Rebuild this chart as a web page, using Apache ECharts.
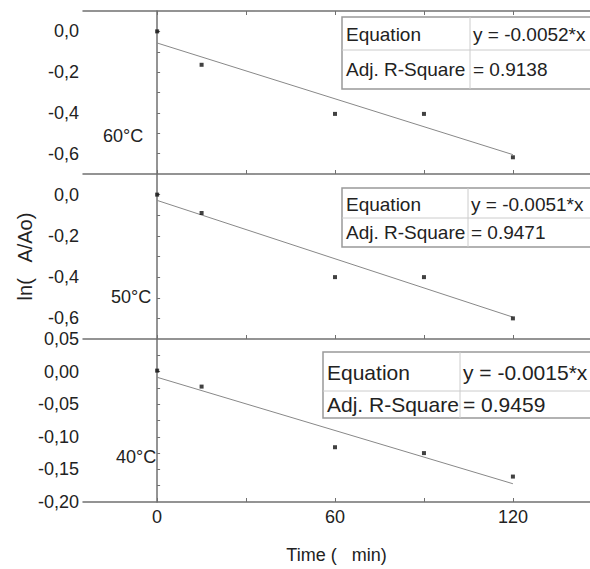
<!DOCTYPE html>
<html>
<head>
<meta charset="utf-8">
<title>ln(A/Ao) vs time</title>
<script src="https://cdn.jsdelivr.net/npm/echarts@6/dist/echarts.min.js"></script>
<style>
  html, body { margin: 0; padding: 0; background: #fff; }
  #chart { width: 590px; height: 569px; }
</style>
</head>
<body>
<div id="chart"></div>
<script>
// data
const timeMin = [0, 15, 60, 90, 120]
const ln60 = [0.0, -0.164, -0.405, -0.405, -0.618]
const ln50 = [0.0, -0.089, -0.40, -0.40, -0.60]
const ln40 = [0.0015, -0.023, -0.116, -0.125, -0.161]
const fitX = [0, 120]
const fit60 = [-0.057, -0.605]
const fit50 = [-0.028, -0.594]
const fit40 = [-0.0087, -0.172]
const temps = ['60°C', '50°C', '40°C']
const equations = ['y = -0.0052*x', 'y = -0.0051*x', 'y = -0.0015*x']
const r2 = ['= 0.9138', '= 0.9471', '= 0.9459']
const xLabels = [0, 60, 120]
const xTicks = [0, 30, 60, 90, 120]
const yLabels = [0, -0.2, -0.4, -0.6]
const yTicks = [0, -0.1, -0.2, -0.3, -0.4, -0.5, -0.6]
const yLabels40 = [0.05, 0, -0.05, -0.1, -0.15, -0.2]
const yTicks40 = [0.025, 0, -0.025, -0.05, -0.075, -0.1, -0.125, -0.15, -0.175]

const font = 'Liberation Sans, Arial, sans-serif'
const axisColor = '#707070'

let pts = (xs, ys) => xs.map((x, i) => [x, ys[i]])

let grids = [
  {left: 83, right: 0, top: 11, height: 163},
  {left: 83, right: 0, top: 174, height: 165},
  {left: 83, right: 0, top: 339, height: 163}
]

function xAx (idx, pos, labels) {
  return {
    type: 'value',
    gridIndex: idx,
    position: pos,
    min: -25,
    max: 146,
    axisLine: {show: true, onZero: false, lineStyle: {color: axisColor, width: 1.5}},
    axisTick: {show: true, inside: true, length: 4, customValues: xTicks, lineStyle: {color: axisColor}},
    axisLabel: {
      show: labels,
      customValues: xLabels,
      margin: 6,
      color: '#222',
      fontSize: 18,
      fontFamily: font
    },
    splitLine: {show: false}
  }
}

function yAx (idx, min, max, labels, ticks, digits) {
  return {
    type: 'value',
    gridIndex: idx,
    min: min,
    max: max,
    axisLine: {show: true, lineStyle: {color: axisColor, width: 1.5}},
    axisTick: {show: true, inside: true, length: 3, customValues: ticks, lineStyle: {color: axisColor}},
    axisLabel: {
      customValues: labels,
      margin: 4,
      color: '#222',
      fontSize: 18,
      fontFamily: font,
      formatter: v => v.toFixed(digits).replace('.', ',')
    },
    splitLine: {show: false}
  }
}

// table boxes, one per panel: [left, top, rowDivider, bottom, colDivider, fontSize]
let boxes = [
  [342, 17, 50, 89, 470, 19],
  [342, 188, 218, 247, 468, 19],
  [323, 352, 391, 418, 460, 21]
]

let graphics = []
boxes.forEach((b, i) => {
  graphics.push({
    type: 'rect',
    shape: {x: b[0], y: b[1], width: 320, height: b[3] - b[1]},
    style: {fill: '#fff', stroke: '#999', lineWidth: 1.5},
    z: 10
  })
  graphics.push({
    type: 'line',
    shape: {x1: b[0], y1: b[2], x2: 600, y2: b[2]},
    style: {stroke: '#ccc', lineWidth: 1},
    z: 11
  })
  graphics.push({
    type: 'line',
    shape: {x1: b[4], y1: b[1], x2: b[4], y2: b[3]},
    style: {stroke: '#ccc', lineWidth: 1},
    z: 11
  })
  let cells = [
    ['Equation', b[0] + 4, (b[1] + b[2]) / 2 + 1],
    [equations[i], b[4] + 3, (b[1] + b[2]) / 2 + 1],
    ['Adj. R-Square', b[0] + 4, (b[2] + b[3]) / 2],
    [r2[i], b[4] + 3, (b[2] + b[3]) / 2]
  ]
  cells.forEach(c => {
    graphics.push({
      type: 'text',
      x: c[1],
      y: c[2],
      style: {text: c[0], fill: '#222', font: b[5] + 'px ' + font, align: 'left', verticalAlign: 'middle'},
      z: 12
    })
  })
})

let tempPos = [[103, 136], [111, 297], [116, 457]]
temps.forEach((t, i) => {
  graphics.push({
    type: 'text',
    x: tempPos[i][0],
    y: tempPos[i][1],
    style: {text: t, fill: '#222', font: '18px ' + font, align: 'left', verticalAlign: 'middle'}
  })
})

let scatter = (idx, ys) => ({
  type: 'scatter',
  xAxisIndex: idx,
  yAxisIndex: idx,
  symbol: 'rect',
  symbolSize: 4,
  itemStyle: {color: '#111'},
  data: pts(timeMin, ys),
  z: 5
})

let fit = (idx, ys) => ({
  type: 'line',
  xAxisIndex: idx,
  yAxisIndex: idx,
  showSymbol: false,
  lineStyle: {color: '#888', width: 1},
  data: pts(fitX, ys),
  z: 4
})

let xBottom = xAx(2, 'bottom', true)
xBottom.name = 'Time (   min)'
xBottom.nameLocation = 'middle'
xBottom.nameGap = 44
xBottom.nameTextStyle = {color: '#222', fontSize: 18, fontFamily: font}

let xTop = xAx(0, 'top', false)

let yMid = yAx(1, -0.7, 0.1, yLabels, yTicks, 1)
yMid.name = 'ln(   A/Ao)'
yMid.nameLocation = 'middle'
yMid.nameGap = 48
yMid.nameTextStyle = {color: '#222', fontSize: 20, fontFamily: font}

let option = {
  animation: false,
  backgroundColor: '#fff',
  grid: grids,
  xAxis: [xAx(0, 'bottom', false), xAx(1, 'bottom', false), xBottom, xTop],
  yAxis: [
    yAx(0, -0.7, 0.1, yLabels, yTicks, 1),
    yMid,
    yAx(2, -0.2, 0.05, yLabels40, yTicks40, 2)
  ],
  series: [
    scatter(0, ln60), fit(0, fit60),
    scatter(1, ln50), fit(1, fit50),
    scatter(2, ln40), fit(2, fit40)
  ],
  graphic: graphics
}

let chart = echarts.init(document.getElementById('chart'), null, {renderer: 'svg'})
chart.setOption(option)
</script>
</body>
</html>
